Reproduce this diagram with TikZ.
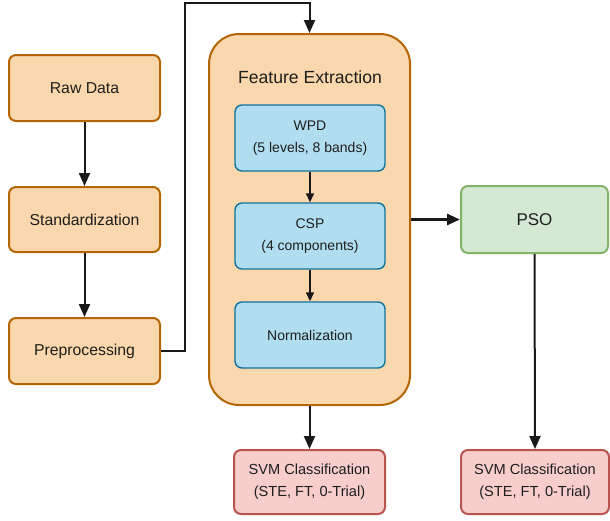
\documentclass[tikz,border=0pt]{standalone}
\usepackage{fontspec}
\setmainfont{Liberation Sans}
\usetikzlibrary{arrows.meta}
\definecolor{ofill}{HTML}{FAD7AC}\definecolor{ostroke}{HTML}{B46504}
\definecolor{bfill}{HTML}{B1DDF0}\definecolor{bstroke}{HTML}{10739E}
\definecolor{gfill}{HTML}{D5E8D4}\definecolor{gstroke}{HTML}{82B366}
\definecolor{rfill}{HTML}{F8CECC}\definecolor{rstroke}{HTML}{B85450}
\definecolor{txt}{HTML}{1E1E1E}
\begin{document}
\begin{tikzpicture}[x=1pt,y=-1pt,
  box/.style={rounded corners=7pt,line width=2pt,inner sep=0pt,align=center,text=txt},
  obox/.style={box,draw=ostroke,fill=ofill,font=\fontsize{15.8}{18}\selectfont},
  bbox/.style={box,draw=bstroke,fill=bfill,line width=1.4pt,font=\fontsize{14}{22}\selectfont},
  gbox/.style={box,draw=gstroke,fill=gfill,font=\fontsize{17}{20}\selectfont},
  rbox/.style={box,draw=rstroke,fill=rfill,font=\fontsize{14.6}{22}\selectfont},
  arr/.style={-{Triangle[length=13pt,width=11pt]},line width=2pt,black!90},
  sarr/.style={-{Triangle[length=9pt,width=8pt]},line width=1.5pt,black!90}]
\useasboundingbox (0,0) rectangle (610,520);
\node[obox,minimum width=151pt,minimum height=66pt] (raw) at (84.5,88) {Raw Data};
\node[obox,minimum width=151pt,minimum height=65pt] (std) at (84.5,219.5) {Standardization};
\node[obox,minimum width=151pt,minimum height=66pt] (pre) at (84.5,351) {Preprocessing};
\node[box,draw=ostroke,fill=ofill,rounded corners=30pt,minimum width=201pt,minimum height=371pt] (fe) at (309.5,219.5) {};
\node[text=txt,font=\fontsize{17.6}{20}\selectfont] (fet) at (310,77) {Feature Extraction};
\node[bbox,minimum width=150pt,minimum height=66pt] (wpd) at (310,138) {WPD\\(5 levels, 8 bands)};
\node[bbox,minimum width=150pt,minimum height=66pt] (csp) at (310,236) {CSP\\(4 components)};
\node[bbox,minimum width=150pt,minimum height=66pt] (nrm) at (310,335) {Normalization};
\node[gbox,minimum width=147pt,minimum height=67pt] (pso) at (534.5,219.5) {PSO};
\node[rbox,minimum width=151pt,minimum height=64pt] (svm1) at (309.5,482) {SVM Classification\\(STE, FT, 0-Trial)};
\node[rbox,minimum width=148pt,minimum height=64pt] (svm2) at (535,482) {SVM Classification\\(STE, FT, 0-Trial)};
\draw[arr] (raw) -- (std);
\draw[arr] (std) -- (pre);
\draw[arr] (pre.east) -- ++(24,0) |- (184,3) -| (fe.north);
\draw[sarr] (wpd) -- (csp);
\draw[sarr] (csp) -- (nrm);
\draw[arr,line width=3pt] (fe.east) -- (pso.west);
\draw[arr] (fe.south) -- (svm1.north);
\draw[arr] (pso.south) -- (svm2.north);
\end{tikzpicture}
\end{document}
